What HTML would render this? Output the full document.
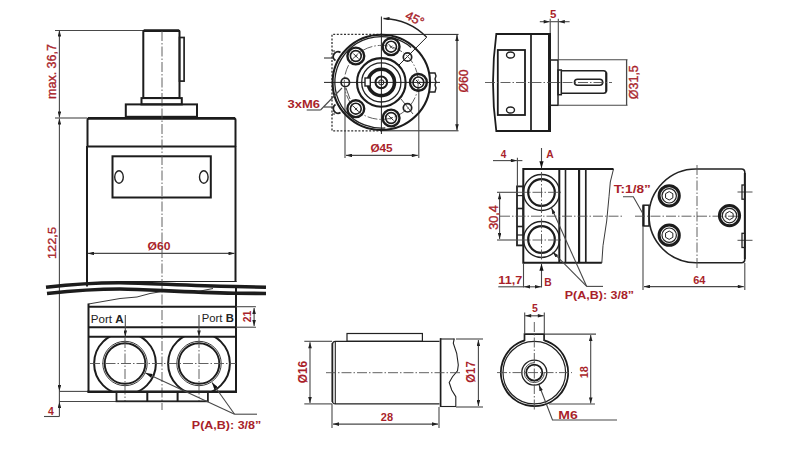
<!DOCTYPE html>
<html><head><meta charset="utf-8">
<style>
html,body{margin:0;padding:0;background:#fff;width:800px;height:450px;overflow:hidden}
svg{display:block}
text{font-family:"Liberation Sans",sans-serif;fill:#a91f2b}
.k{stroke:#1c1c1c;fill:none;stroke-width:2}
.m{stroke:#222;fill:none;stroke-width:1.4}
.t{stroke:#222;fill:none;stroke-width:1}
.d{stroke:#484848;fill:none;stroke-width:1.1}
.c{stroke:#505050;fill:none;stroke-width:0.9;stroke-dasharray:10 2 1.5 2}
.h{stroke:#333;fill:none;stroke-width:1.3;stroke-dasharray:2 1.6}
.b{font-weight:bold}
.s{stroke:#a91f2b;stroke-width:0.35}
</style></head><body>
<svg width="800" height="450" viewBox="0 0 800 450">
<defs>
<marker id="ar" viewBox="0 0 10 6" refX="10" refY="3" markerWidth="7" markerHeight="3.6" orient="auto-start-reverse" markerUnits="userSpaceOnUse">
<path d="M0,0 L10,3 L0,6 z" fill="#222"/>
</marker>
<marker id="arL" viewBox="0 0 10 6" refX="10" refY="3" markerWidth="8" markerHeight="4.2" orient="auto-start-reverse" markerUnits="userSpaceOnUse">
<path d="M0,0 L10,3 L0,6 z" fill="#111"/>
</marker>
</defs>

<!-- ================= LEFT VIEW ================= -->
<g id="left">
<!-- extension lines -->
<line class="d" x1="55" y1="30.5" x2="143" y2="30.5"/>
<line class="d" x1="55" y1="118" x2="87" y2="118"/>
<line class="d" x1="59" y1="391.4" x2="88" y2="391.4"/>
<line class="d" x1="59" y1="401.5" x2="116" y2="401.5"/>
<line class="d" x1="44" y1="416.5" x2="59.4" y2="416.5"/>
<!-- dimension lines -->
<line class="d" x1="59.4" y1="30.5" x2="59.4" y2="117.5" marker-start="url(#ar)" marker-end="url(#ar)"/>
<line class="d" x1="59.4" y1="118.5" x2="59.4" y2="391" marker-start="url(#ar)" marker-end="url(#ar)"/>
<line class="d" x1="59.4" y1="416.5" x2="59.4" y2="402" marker-end="url(#ar)"/>
<line class="d" x1="59.4" y1="391" x2="59.4" y2="402"/>
<!-- shaft -->
<rect class="k" x="143.3" y="30.5" width="36.2" height="67.6" rx="1"/>
<line class="k" x1="144" y1="30.8" x2="179" y2="30.8" style="stroke-width:2.6"/>
<rect class="m" x="179.5" y="37.5" width="4.6" height="43.6" style="stroke-width:1.7"/>
<rect class="k" x="141.5" y="98.1" width="40.3" height="6.3"/>
<rect class="k" x="125.8" y="104.4" width="71.2" height="12.4"/>
<!-- body -->
<path class="k" d="M87.5,146.5 L87.5,120 Q87.5,118 90,118 L233,118 Q235.5,118 235.5,120 L235.5,146.5"/>
<line class="k" x1="88" y1="118.3" x2="235" y2="118.3" style="stroke-width:2.8"/>
<line class="k" x1="87" y1="146.5" x2="235.5" y2="146.5"/>
<line class="k" x1="87" y1="146" x2="87" y2="286.5"/>
<line class="k" x1="235.5" y1="146" x2="235.5" y2="282"/>
<line class="m" x1="120" y1="281.5" x2="236.5" y2="281.5" style="stroke-width:1.2"/>
<rect class="k" x="112.5" y="156.3" width="98.3" height="41.2"/>
<ellipse class="m" cx="119" cy="177" rx="4.3" ry="6.3"/>
<ellipse class="m" cx="203.8" cy="177" rx="4.3" ry="6.3"/>
<!-- O60 dim -->
<line class="d" x1="88" y1="253.4" x2="234.5" y2="253.4" marker-start="url(#ar)" marker-end="url(#ar)"/>
<text x="147.6" y="249.7" font-size="11.6" class="b" textLength="23" lengthAdjust="spacingAndGlyphs">Ø60</text>
<!-- center line -->
<line class="c" x1="162" y1="31" x2="162" y2="410"/>
<!-- break lines -->
<path class="k" d="M46,287.2 C70,284.5 95,282.6 120,282.7 C150,283 185,285.6 235,286.5 L266,287.2" style="stroke-width:3.6"/>
<path class="k" d="M47,293.5 C70,291 95,289 120,289 C150,289.5 185,292.3 235,293.2 L266,293.5" style="stroke-width:3.6"/>
<path class="t" d="M88.5,304 L120,298.5 L137,297 L150,293.5 L162,291.5" style="stroke-width:0.9"/>
<path class="t" d="M198,291.5 L213,288.5" style="stroke-width:0.9"/>
<!-- lower body -->
<line class="k" x1="236" y1="286" x2="236" y2="392.5"/>
<line class="k" x1="88.5" y1="303.5" x2="88.5" y2="392.5"/>
<line class="k" x1="88" y1="306.8" x2="236.5" y2="306.8"/>
<line class="k" x1="88" y1="327.2" x2="236.5" y2="327.2"/>
<line class="k" x1="88" y1="336.8" x2="236.5" y2="336.8"/>
<line class="k" x1="87.5" y1="391.8" x2="237" y2="391.8" style="stroke-width:2.4"/>
<text x="90.8" y="323.3" font-size="10.2" style="fill:#222" textLength="32.8" lengthAdjust="spacingAndGlyphs">Port <tspan class="b">A</tspan></text>
<text x="201.8" y="321.5" font-size="10.2" style="fill:#222" textLength="32" lengthAdjust="spacingAndGlyphs">Port <tspan class="b">B</tspan></text>
<line class="d" x1="125.3" y1="315" x2="125.3" y2="336.5" marker-end="url(#ar)"/>
<line class="d" x1="199" y1="315" x2="199" y2="336.5" marker-end="url(#ar)"/>
<clipPath id="cp1"><rect x="88" y="337" width="149" height="55"/></clipPath>
<g clip-path="url(#cp1)">
<circle class="k" cx="125" cy="363.5" r="30.9"/>
<circle class="k" cx="199" cy="363.5" r="30.9"/>
</g>
<circle class="k" cx="125" cy="363.5" r="20.3" style="stroke-width:1.9"/>
<circle class="t" cx="125" cy="363.5" r="22.2" style="stroke-width:0.9"/>
<circle class="k" cx="199" cy="363.5" r="20.3" style="stroke-width:1.9"/>
<circle class="t" cx="199" cy="363.5" r="22.2" style="stroke-width:0.9"/>
<line class="c" x1="90" y1="363.5" x2="236" y2="363.5"/>
<line class="c" x1="125" y1="338" x2="125" y2="402"/>
<line class="c" x1="199" y1="338" x2="199" y2="402"/>
<rect class="m" x="116.5" y="391.8" width="91.4" height="9.5" style="stroke-width:1.8"/>
<line class="k" x1="147.3" y1="391.8" x2="147.3" y2="401.3" style="stroke-width:2"/>
<line class="k" x1="177.6" y1="391.8" x2="177.6" y2="401.3" style="stroke-width:2"/>
<!-- leaders -->
<line class="d" x1="234.6" y1="414.2" x2="145.5" y2="373" marker-end="url(#arL)"/>
<line class="d" x1="234.6" y1="414.2" x2="212" y2="382.5" marker-end="url(#arL)"/>
<line class="d" x1="234.6" y1="414.2" x2="257" y2="414.2"/>
<text x="191.8" y="428.5" font-size="11.3" class="b" textLength="69.5" lengthAdjust="spacingAndGlyphs">P(A,B): 3/8”</text>
<!-- 21 dim -->
<line class="d" x1="236" y1="306.7" x2="256" y2="306.7"/>
<line class="d" x1="236" y1="327.2" x2="256" y2="327.2"/>
<line class="d" x1="254.1" y1="308" x2="254.1" y2="326" marker-start="url(#ar)" marker-end="url(#ar)"/>
<text transform="translate(251.2,316.5) rotate(-90)" font-size="10.5" text-anchor="middle" class="b">21</text>
<!-- left texts -->
<text transform="translate(56.3,71.5) rotate(-90)" font-size="12" text-anchor="middle" textLength="55" lengthAdjust="spacingAndGlyphs" class="s">max. 36,7</text>
<text transform="translate(56.3,243) rotate(-90)" font-size="11.8" text-anchor="middle" textLength="32" lengthAdjust="spacingAndGlyphs" class="s">122,5</text>
<text x="51" y="415.2" font-size="10.5" text-anchor="middle" class="b">4</text>
</g>


<!-- ================= TOP VIEW ================= -->
<g id="top">
<!-- dashed outline -->
<path class="h" d="M382,34.4 L332,34.4 L332,130.8 L382,130.8"/>
<line class="t" x1="382" y1="34.4" x2="458.5" y2="34.4"/>
<line class="t" x1="382" y1="130.8" x2="458.5" y2="130.8"/>
<!-- O60 -->
<line class="d" x1="457" y1="35" x2="457" y2="130.2" marker-start="url(#ar)" marker-end="url(#ar)" style="stroke-width:1.4"/>
<text transform="translate(467.8,80.9) rotate(-90)" font-size="12" text-anchor="middle" textLength="23" lengthAdjust="spacingAndGlyphs" class="s">Ø60</text>
<!-- O45 -->
<line class="d" x1="345" y1="88" x2="345" y2="158"/>
<line class="d" x1="418.8" y1="88" x2="418.8" y2="158"/>
<line class="d" x1="346" y1="155.4" x2="417.8" y2="155.4" marker-start="url(#ar)" marker-end="url(#ar)"/>
<text x="370.4" y="151.6" font-size="10.8" class="b" textLength="22.3" lengthAdjust="spacingAndGlyphs">Ø45</text>
<!-- 45 deg -->
<path class="t" d="M383.5,18.5 A64,64 0 0 1 426.7,37.2" marker-start="url(#ar)" style="stroke-width:1.3"/>
<line class="t" x1="426.7" y1="37.2" x2="398" y2="66"/>
<line class="t" x1="401" y1="99" x2="413" y2="114" style="stroke-width:0.8"/>
<text transform="translate(413,22.5) rotate(26)" font-size="12.5" text-anchor="middle" class="s">45°</text>
<!-- center lines -->
<line class="t" x1="381.4" y1="16.5" x2="381.4" y2="134"/>
<line class="t" x1="324" y1="82.4" x2="440" y2="82.4"/>
<!-- outer -->
<ellipse class="k" cx="381.3" cy="82.4" rx="48.7" ry="47.6" style="stroke-width:2.1"/>
<path class="m" d="M411.1,47.4 A46.4,45.7 0 1 0 385.3,127.9" style="stroke-width:1.3"/>

<path class="m" d="M340.5,52.5 A4,4 0 0 0 335.5,60.5 M335.5,104.5 A4,4 0 0 0 340.5,112.5" style="stroke-width:1.8"/>
<line class="t" x1="332" y1="51" x2="335" y2="51"/><line class="t" x1="332" y1="114" x2="335" y2="114"/>
<line class="t" x1="324" y1="58" x2="333" y2="58"/>
<line class="t" x1="324" y1="107" x2="333" y2="107"/>
<path class="m" d="M430,73 L435,73 L436,76 L435,79 L436,82 L435,85 L436,88 L435,92 L430,92"/>
<!-- bolt circle -->
<circle class="c" cx="381.3" cy="82.4" r="37"/>
<!-- rings -->
<circle class="k" cx="381.3" cy="82.4" r="24.3" style="stroke-width:2.1"/>
<circle class="t" cx="381.3" cy="82.4" r="19.6" style="stroke-width:1.3"/>
<circle class="k" cx="381.3" cy="82.4" r="13.2" style="stroke-width:3.6"/>
<rect class="m" x="365" y="78" width="5.3" height="8" fill="#fff" style="fill:#fff"/>
<circle class="k" cx="381.3" cy="82.4" r="5.8" style="stroke-width:2"/>
<circle class="t" cx="381.3" cy="82.4" r="2.6"/>
<!-- small holes -->
<circle class="m" cx="345.3" cy="82.4" r="4.2" style="stroke-width:1.7"/>
<circle class="m" cx="407.5" cy="57" r="4.2" style="stroke-width:1.7"/>
<circle class="m" cx="407.5" cy="107.8" r="4.2" style="stroke-width:1.7"/>
<!-- bolts -->
<g id="bolt">
</g>
<circle class="k" cx="418.4" cy="82.4" r="8.4" style="stroke-width:2.4"/><circle class="k" cx="418.4" cy="82.4" r="5.4" style="stroke-width:1.6"/><line class="t" x1="415.9" y1="79.9" x2="420.9" y2="84.9"/><line class="t" x1="417.4" y1="83.9" x2="419.9" y2="81.4" style="stroke-width:0.8"/>
<circle class="k" cx="391.1" cy="46.7" r="8.4" style="stroke-width:2.4"/><circle class="k" cx="391.1" cy="46.7" r="5.4" style="stroke-width:1.6"/><line class="t" x1="388.6" y1="44.2" x2="393.6" y2="49.2"/><line class="t" x1="390.1" y1="48.2" x2="392.6" y2="45.7" style="stroke-width:0.8"/>
<circle class="k" cx="355.8" cy="56" r="8.4" style="stroke-width:2.4"/><circle class="k" cx="355.8" cy="56" r="5.4" style="stroke-width:1.6"/><line class="t" x1="353.3" y1="53.5" x2="358.3" y2="58.5"/><line class="t" x1="354.8" y1="57.5" x2="357.3" y2="55" style="stroke-width:0.8"/>
<circle class="k" cx="355.8" cy="108.7" r="8.4" style="stroke-width:2.4"/><circle class="k" cx="355.8" cy="108.7" r="5.4" style="stroke-width:1.6"/><line class="t" x1="353.3" y1="106.2" x2="358.3" y2="111.2"/><line class="t" x1="354.8" y1="110.2" x2="357.3" y2="107.7" style="stroke-width:0.8"/>
<circle class="k" cx="391.1" cy="118" r="8.4" style="stroke-width:2.4"/><circle class="k" cx="391.1" cy="118" r="5.4" style="stroke-width:1.6"/><line class="t" x1="388.6" y1="115.5" x2="393.6" y2="120.5"/><line class="t" x1="390.1" y1="119.5" x2="392.6" y2="117" style="stroke-width:0.8"/>

<!-- 3xM6 -->
<line class="d" x1="306.7" y1="110" x2="320.5" y2="110"/>
<line class="d" x1="320.5" y1="110" x2="342" y2="88"/>
<line class="t" x1="346" y1="88" x2="350" y2="99" style="stroke-width:0.8"/>
<text x="287.5" y="107.5" font-size="11" class="b" textLength="32.5" lengthAdjust="spacingAndGlyphs">3xM6</text>
</g>


<!-- ================= SIDE VIEW (top right) ================= -->
<g id="side">
<path class="k" d="M496.3,34 L549,34 L549,131 L496.3,131 Q489.7,82.5 496.3,34 Z" style="stroke-width:1.8"/>
<line class="k" x1="531" y1="34" x2="531" y2="131" style="stroke-width:1.7"/>
<line class="k" x1="549.6" y1="33" x2="549.6" y2="132" style="stroke-width:2.8"/>
<rect class="k" x="497.8" y="50" width="27.2" height="65" style="stroke-width:1.8"/>
<ellipse class="m" cx="510.5" cy="55" rx="4" ry="3"/>
<ellipse class="m" cx="510.5" cy="110" rx="4" ry="3"/>
<rect class="m" x="549" y="60" width="9" height="45.3" style="stroke-width:1.5"/>
<rect class="m" x="558" y="70" width="3.3" height="24.7" style="stroke-width:1.5"/>
<path class="m" d="M561.3,70.7 L603.5,70.7 Q606.3,70.7 606.3,73.5 L606.3,90.5 Q606.3,93.3 603.5,93.3 L561.3,93.3" style="stroke-width:1.6"/>
<line class="k" x1="606.3" y1="72.5" x2="606.3" y2="91.5" style="stroke-width:2"/>
<rect class="m" x="574.5" y="79.3" width="28.2" height="6" rx="3" style="stroke-width:1.6"/>
<line class="c" x1="485" y1="82.5" x2="612" y2="82.5"/>
<!-- O31,5 -->
<line class="d" x1="558" y1="59.7" x2="627.5" y2="59.7"/>
<line class="d" x1="558" y1="105.2" x2="627.5" y2="105.2"/>
<line class="d" x1="626.6" y1="59.7" x2="626.6" y2="105.2" style="stroke-width:1.3"/>
<text transform="translate(638.3,82.2) rotate(-90)" font-size="12" text-anchor="middle" textLength="34" lengthAdjust="spacingAndGlyphs" class="s">Ø31,5</text>
<!-- 5 -->
<line class="d" x1="550.2" y1="18.8" x2="550.2" y2="33"/>
<line class="d" x1="558.3" y1="18.8" x2="558.3" y2="60"/>
<line class="d" x1="539.8" y1="21.7" x2="549.7" y2="21.7" marker-end="url(#ar)"/>
<line class="d" x1="569.6" y1="21.7" x2="558.8" y2="21.7" marker-end="url(#ar)"/>
<line class="d" x1="550.2" y1="21.7" x2="558.3" y2="21.7"/>
<text x="553.2" y="18.4" font-size="11.5" text-anchor="middle" class="b">5</text>
</g>

<!-- ================= PORT VIEW ================= -->
<g id="port">
<line class="k" x1="523.3" y1="169" x2="613.5" y2="169"/>
<line class="k" x1="523.3" y1="262.7" x2="601.8" y2="262.7"/>
<line class="k" x1="523.3" y1="168" x2="523.3" y2="263.7"/>
<line class="k" x1="559.3" y1="169" x2="559.3" y2="262.7"/>
<line class="m" x1="565.5" y1="169" x2="565.5" y2="262.7" style="stroke-width:1.6"/>
<line class="k" x1="579.1" y1="169" x2="579.1" y2="262.7" style="stroke-width:2.2"/>
<line class="m" x1="585.8" y1="169" x2="585.8" y2="262.7" style="stroke-width:1.7"/>
<path class="t" d="M613.5,169 L610.3,182 L609,196.7 L606.7,221 L603,245.6 L601.8,263" style="stroke-width:0.9"/>
<rect class="m" x="517" y="186.4" width="6.3" height="59" style="stroke-width:1.8"/>
<line class="m" x1="517" y1="195.6" x2="523.3" y2="195.6" style="stroke-width:1.2"/>
<line class="m" x1="517" y1="208.5" x2="523.3" y2="208.5" style="stroke-width:1.6"/>
<line class="m" x1="517" y1="226.5" x2="523.3" y2="226.5" style="stroke-width:1.6"/>
<line class="m" x1="517" y1="235" x2="523.3" y2="235" style="stroke-width:1.2"/>
<circle class="m" cx="541.5" cy="192.5" r="18" style="stroke-width:1.3"/>
<circle class="k" cx="541.5" cy="192.5" r="13.3" style="stroke-width:2.2"/>
<circle class="m" cx="541.5" cy="239.5" r="18" style="stroke-width:1.3"/>
<circle class="k" cx="541.5" cy="239.5" r="13.3" style="stroke-width:2.2"/>
<line class="c" x1="500" y1="216.2" x2="622" y2="216.2"/>
<line class="c" x1="541.5" y1="172" x2="541.5" y2="260"/>
<line class="d" x1="497" y1="192.3" x2="517" y2="192.3"/>
<line class="d" x1="497" y1="240" x2="517" y2="240"/>
<line class="c" x1="517" y1="192.3" x2="561" y2="192.3"/>
<line class="c" x1="517" y1="240" x2="561" y2="240"/>
<!-- A / B arrows -->
<line class="d" x1="541.5" y1="148" x2="541.5" y2="168.2" marker-end="url(#arL)"/>
<text x="550" y="157.8" font-size="10.3" text-anchor="middle" class="b">A</text>
<line class="d" x1="541.5" y1="287.5" x2="541.5" y2="263.8" marker-end="url(#arL)"/>
<text x="548" y="285.5" font-size="10.3" text-anchor="middle" class="b">B</text>
<!-- 4 -->
<line class="d" x1="517.4" y1="157.8" x2="517.4" y2="186.5"/>
<line class="d" x1="493" y1="160.6" x2="516.9" y2="160.6" marker-end="url(#ar)"/>
<line class="d" x1="516.9" y1="160.6" x2="522.4" y2="160.6"/>
<text x="503.5" y="157.8" font-size="10" text-anchor="middle" class="b">4</text>
<!-- 30,4 -->
<line class="d" x1="499.6" y1="193.3" x2="499.6" y2="239" marker-start="url(#ar)" marker-end="url(#ar)"/>
<text transform="translate(497.7,217.5) rotate(-90)" font-size="12" text-anchor="middle" textLength="24.5" lengthAdjust="spacingAndGlyphs" class="s">30,4</text>
<!-- 11,7 -->
<line class="d" x1="523.5" y1="263" x2="523.5" y2="287.5"/>
<line class="d" x1="498.3" y1="286.8" x2="523.5" y2="286.8"/>
<line class="d" x1="524" y1="286.8" x2="541" y2="286.8" marker-start="url(#ar)" marker-end="url(#ar)"/>
<text x="498.3" y="284" font-size="10.5" class="b" textLength="24" lengthAdjust="spacingAndGlyphs">11,7</text>
<!-- leaders -->
<line class="d" x1="586.7" y1="286.4" x2="551.5" y2="208" marker-end="url(#ar)"/>
<line class="d" x1="586.7" y1="286.4" x2="552.7" y2="252" marker-end="url(#ar)"/>
<line class="d" x1="586.7" y1="286.4" x2="603" y2="286.4"/>
<text x="564.8" y="298.5" font-size="11.3" class="b" textLength="69.3" lengthAdjust="spacingAndGlyphs">P(A,B): 3/8”</text>
</g>

<!-- ================= END VIEW (right) ================= -->
<g id="endv">
<path class="m" d="M696,169 L741.5,169 Q744.8,169 744.8,172.5 L744.8,259.2 Q744.8,262.7 741.5,262.7 L696,262.7 A47,46.85 0 0 1 696,169 Z" style="stroke-width:1.6"/>
<line class="k" x1="744.8" y1="173" x2="744.8" y2="259" style="stroke-width:1.9"/>
<rect class="m" x="643.2" y="205.2" width="5.8" height="20.8" style="stroke-width:1.5"/>
<line class="k" x1="643.5" y1="205.2" x2="643.5" y2="226" style="stroke-width:2.2"/>
<line class="c" x1="697" y1="165" x2="697" y2="270"/>
<line class="c" x1="635" y1="216.2" x2="740" y2="216.2"/>
<rect class="m" x="742" y="185" width="2.8" height="14.2" style="stroke-width:1.3"/>
<rect class="m" x="742" y="233.3" width="2.8" height="14.2" style="stroke-width:1.3"/>
<line class="t" x1="737.5" y1="192" x2="752.5" y2="192" style="stroke-width:0.8"/>
<line class="t" x1="737.5" y1="240.3" x2="752.5" y2="240.3" style="stroke-width:0.8"/>
<circle class="k" cx="669.2" cy="195.8" r="10.1" style="stroke-width:3"/><circle class="m" cx="669.2" cy="195.8" r="7.2" style="stroke-width:1.2"/><polygon class="t" points="672.84,197.90 669.20,200.00 665.56,197.90 665.56,193.70 669.20,191.60 672.84,193.70" style="stroke-width:1"/>
<circle class="k" cx="669.2" cy="235.2" r="10.1" style="stroke-width:3"/><circle class="m" cx="669.2" cy="235.2" r="7.2" style="stroke-width:1.2"/><polygon class="t" points="672.84,237.30 669.20,239.40 665.56,237.30 665.56,233.10 669.20,231.00 672.84,233.10" style="stroke-width:1"/>
<circle class="k" cx="729.5" cy="215.6" r="10.1" style="stroke-width:3"/><circle class="m" cx="729.5" cy="215.6" r="7.2" style="stroke-width:1.2"/><polygon class="t" points="733.14,217.70 729.50,219.80 725.86,217.70 725.86,213.50 729.50,211.40 733.14,213.50" style="stroke-width:1"/>

<text x="613.8" y="192.5" font-size="11.2" class="b" textLength="37" lengthAdjust="spacingAndGlyphs">T:1/8”</text>
<path class="d" d="M623,196.7 L633.3,196.7 L642.7,213.3"/>
<line class="d" x1="643" y1="226" x2="643" y2="290"/>
<line class="d" x1="744.8" y1="263" x2="744.8" y2="290"/>
<line class="d" x1="644" y1="286.6" x2="743.8" y2="286.6" marker-start="url(#ar)" marker-end="url(#ar)"/>
<text x="699.3" y="284" font-size="11" text-anchor="middle" class="b">64</text>
</g>

<!-- ================= SHAFT VIEW ================= -->
<g id="shaft">
<path class="m" d="M439.5,341.3 L335.5,341.3 Q332.4,341.3 332.4,344.5 L332.4,400.7 Q332.4,403.9 335.5,403.9 L439.5,403.9" style="stroke-width:1.25"/>
<line class="m" x1="332.4" y1="343" x2="332.4" y2="402" style="stroke-width:1.7"/>
<line class="t" x1="335.3" y1="341.3" x2="335.3" y2="403.9" style="stroke-width:1.1"/>
<rect class="m" x="347" y="333.5" width="75.4" height="7.8" style="stroke-width:1.2"/>
<line class="k" x1="440.6" y1="338.2" x2="440.6" y2="407" style="stroke-width:1.7"/>
<line class="m" x1="440" y1="339" x2="454.5" y2="339" style="stroke-width:1.1"/>
<line class="m" x1="440" y1="406.5" x2="456" y2="406.5" style="stroke-width:1.1"/>
<path class="t" d="M454.2,338.7 L453.3,343.3 L456.7,353.3 L458.3,365 L457.5,370.8 L452.5,376.7 L449.2,382.5 L451.7,390 L455.8,396.7 L455.8,406.5" style="stroke-width:1.1"/>
<line class="c" x1="326" y1="372.7" x2="462" y2="372.7"/>
<!-- O16 -->
<line class="d" x1="304.3" y1="341.3" x2="332" y2="341.3"/>
<line class="d" x1="304.3" y1="403.9" x2="332" y2="403.9"/>
<line class="d" x1="310" y1="342.3" x2="310" y2="402.9" marker-start="url(#ar)" marker-end="url(#ar)"/>
<text transform="translate(307,372.1) rotate(-90)" font-size="12" text-anchor="middle" class="b" textLength="22.5" lengthAdjust="spacingAndGlyphs">Ø16</text>
<!-- 28 -->
<line class="d" x1="332" y1="404" x2="332" y2="428"/>
<line class="d" x1="439" y1="407" x2="439" y2="428"/>
<line class="d" x1="333" y1="424.1" x2="438" y2="424.1" marker-start="url(#ar)" marker-end="url(#ar)"/>
<text x="386.9" y="421.2" font-size="11" text-anchor="middle" class="b">28</text>
<!-- O17 -->
<line class="d" x1="456" y1="339" x2="483" y2="339"/>
<line class="d" x1="456" y1="407" x2="483" y2="407"/>
<line class="d" x1="478.4" y1="340" x2="478.4" y2="406" marker-start="url(#ar)" marker-end="url(#ar)"/>
<text transform="translate(475.2,372) rotate(-90)" font-size="12" text-anchor="middle" class="b" textLength="21.5" lengthAdjust="spacingAndGlyphs">Ø17</text>
</g>

<!-- ================= END CIRCLE VIEW ================= -->
<g id="circ">
<path class="k" d="M524.7,340.4 A33.6,33.6 0 1 0 544.3,340.4" style="stroke-width:1.9"/>
<circle class="t" cx="534.3" cy="372.6" r="31.3" style="stroke-width:1.2"/>
<path class="m" d="M524.5,341 L524.5,334.1 L544.1,334.1 L544.1,341" style="stroke-width:1.7"/>
<circle class="m" cx="534.3" cy="372.6" r="12.5" style="stroke-width:1.3"/>
<path class="t" d="M544.3,372.6 A10,10 0 1 1 534.3,362.6" style="stroke-width:0.8"/>
<circle class="k" cx="534.3" cy="372.6" r="8" style="stroke-width:1.8"/>
<line class="c" x1="497" y1="372.6" x2="572" y2="372.6"/>
<line class="c" x1="534.3" y1="322" x2="534.3" y2="410"/>
<!-- 5 -->
<line class="d" x1="524.7" y1="312.5" x2="524.7" y2="334"/>
<line class="d" x1="544.3" y1="312.5" x2="544.3" y2="334"/>
<line class="d" x1="525.2" y1="315.8" x2="543.8" y2="315.8" marker-start="url(#ar)" marker-end="url(#ar)"/>
<text x="534.8" y="311.6" font-size="10.5" text-anchor="middle" class="b">5</text>
<!-- 18 -->
<line class="d" x1="545" y1="334.1" x2="596" y2="334.1"/>
<line class="d" x1="549" y1="404" x2="595" y2="404"/>
<line class="d" x1="590.7" y1="335.1" x2="590.7" y2="403.5" marker-start="url(#ar)" marker-end="url(#ar)"/>
<text transform="translate(587.5,372.2) rotate(-90)" font-size="11" text-anchor="middle" class="b">18</text>
<!-- M6 -->
<path class="d" d="M617,420 L552.5,420 L539,385" marker-end="url(#ar)"/>
<text x="558.2" y="418.8" font-size="11" class="b" textLength="19.5" lengthAdjust="spacingAndGlyphs">M6</text>
</g>

</svg>
</body></html>
